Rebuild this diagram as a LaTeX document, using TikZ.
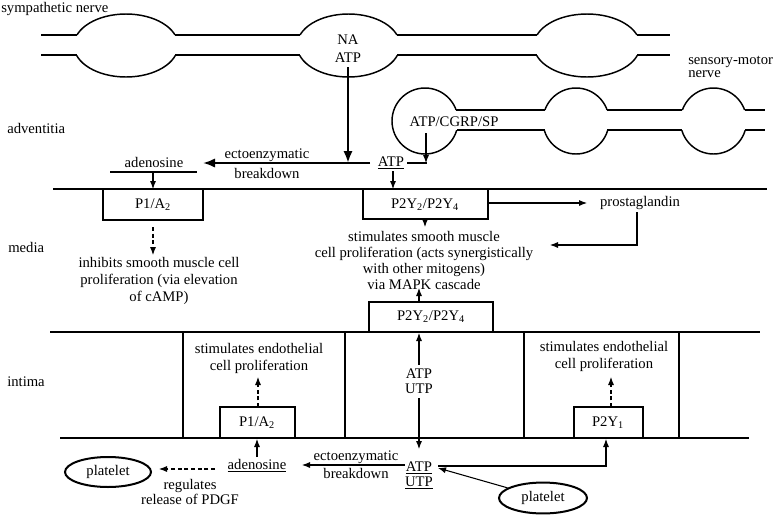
\documentclass[tikz,border=0pt]{standalone}
\usepackage{fontspec}
\setmainfont{Liberation Serif}
\usetikzlibrary{arrows.meta,shapes.geometric}
\begin{document}
\begin{tikzpicture}[x=0.75pt,y=-0.75pt,
  txt/.style={inner sep=0pt, font=\fontsize{11}{13}\selectfont, align=center},
  mem/.style={line width=2.2pt},
  rbox/.style={line width=1.9pt},
  cellwall/.style={line width=1.3pt},
  nerve/.style={line width=1.1pt},
  nerveend/.style={line width=1.6pt},
  thin/.style={line width=0.8pt},
  arr/.style={thin, -{Latex[length=6pt,width=4.6pt]}},
  darr/.style={arr, dash pattern=on 3pt off 2pt},
  bigarr/.style={line width=1.8pt, -{Latex[length=9pt,width=7pt]}},
  plt/.style={ellipse, draw, line width=1.5pt, inner sep=0pt, font=\fontsize{11}{13}\selectfont}
]
\fill[white] (0,0) rectangle (776,515);
\useasboundingbox (0,0) rectangle (776,515);

% ---------- sympathetic nerve ----------
\draw[nerveend] (41,35) -- (77,35) (41,55) -- (77,55);
\draw[nerve] (175,35) -- (300,35) (175,55) -- (300,55) (397,35) -- (537,35) (397,55) -- (537,55);
\draw[nerveend] (637,35) -- (670,35) (637,55) -- (670,55);
\begin{scope}
  \clip (0,0) rectangle (776,35) (0,55) rectangle (776,100);
  \draw[nerve] (126,45.5) ellipse [x radius=52, y radius=31.5];
  \draw[nerve] (348.5,45.5) ellipse [x radius=51.4, y radius=31.5];
  \draw[nerve] (587,45.5) ellipse [x radius=53, y radius=31.5];
\end{scope}

% ---------- sensory-motor nerve ----------
\draw[nerve] (456,110) -- (545,110) (457,130) -- (545,130) (607,110) -- (682,110) (607,130) -- (682,130);
\draw[nerveend] (745,110) -- (765,110) (745,130) -- (765,130);
\begin{scope}
  \clip (380,70) rectangle (776,110) (380,130) rectangle (776,170) (380,70) rectangle (426,170);
  \draw[nerve] (425,121) circle [radius=33];
  \draw[nerve] (576,121) circle [radius=33];
  \draw[nerve] (713.5,121) circle [radius=33];
\end{scope}

% ---------- labels ----------
\node[txt, anchor=west] (lsym) at (1,9) {sympathetic nerve};
\node[txt, anchor=west, align=left, font=\fontsize{11}{9.8}\selectfont] (lsens) at (688,67) {sensory-motor\\nerve};
\node[txt, anchor=west] (ladv) at (7,128) {adventitia};
\node[txt, anchor=west] (lmed) at (8,247) {media};
\node[txt, anchor=west] (lint) at (7,382) {intima};

% ---------- adventitia ----------
\node[txt, font=\fontsize{11}{13.5}\selectfont] (na) at (348,49) {NA\\ATP};
\node[txt] (cgrp) at (454,122) {ATP/CGRP/SP};
\node[txt] (atpa) at (391,163) {\underline{ATP}};
\node[txt] (adeno) at (154,162) {adenosine};
\node[txt, font=\fontsize{11}{15}\selectfont] (ecto1) at (267,164) {ectoenzymatic\\breakdown};

\coordinate (naB) at (348,67);
\coordinate (j1) at (348,163);
\coordinate (atpAL) at (370,163);
\coordinate (adTip) at (203,163);
\draw[bigarr] (naB) -- (j1);
\draw[line width=1.6pt, -{Latex[length=9pt,width=7pt]}] (atpAL) -- (adTip);

\coordinate (cgrpB) at (426,133);
\coordinate (cgrpT) at (426,163);
\coordinate (atpAR) at (407,163);
\draw[line width=1.8pt] (atpAR) -- ([xshift=0.8pt]cgrpT);
\draw[arr] (cgrpB) -- (cgrpT);

\draw[thin] (110,172) -- (197,172);
\coordinate (adB) at (153,172);
\coordinate (p1mT) at (153,189);
\draw[arr] (adB) -- (p1mT);
\coordinate (atpAB) at (393,171);
\coordinate (p2mT) at (393,189);
\draw[arr] (atpAB) -- (p2mT);

% ---------- media ----------
\draw[mem] (53,189) -- (767,189);
\draw[rbox] (103,189) -- (103,220) -- (203,220) -- (203,189);
\draw[rbox] (363,189) -- (363,219) -- (488,219) -- (488,189);
\node[txt] (p1m) at (153,205) {P1/A\textsubscript{2}};
\node[txt] (p2m) at (425,205) {P2Y\textsubscript{2}/P2Y\textsubscript{4}};
\node[txt] (prost) at (640,203) {prostaglandin};
\node[txt, font=\fontsize{11}{13.1}\selectfont] (inhib) at (159,281) {inhibits smooth muscle cell\\proliferation (via elevation\\of cAMP)};
\node[txt, font=\fontsize{11}{12}\selectfont] (stim) at (424,260) {stimulates smooth muscle\\cell proliferation (acts synergistically\\with other mitogens)\\via MAPK cascade};

\coordinate (p2mR) at (488,203);
\coordinate (prL) at (587,203);
\draw[arr] (p2mR) -- (prL);
\coordinate (prB) at (637,212);
\coordinate (stimR) at (550,245);
\draw[arr] (prB) -- (637,245) -- (stimR);
\coordinate (p2mB) at (425,219);
\coordinate (stimT) at (425,227);
\draw[arr] (p2mB) -- (stimT);
\coordinate (p1mB) at (153,227);
\coordinate (inhT) at (153,255);
\draw[darr] (p1mB) -- (inhT);

% ---------- intima ----------
\draw[mem] (50,332) -- (760,332);
\draw[mem] (60,438) -- (749,438);
\foreach \xx in {183,345,524,679} \draw[cellwall] (\xx,332) -- (\xx,438);
\draw[rbox] (369,332) -- (369,302) -- (493,302) -- (493,332);
\draw[rbox] (220,438) -- (220,407) -- (295,407) -- (295,438);
\draw[rbox] (574,438) -- (574,407) -- (643,407) -- (643,438);
\node[txt] (p2i) at (431,317) {P2Y\textsubscript{2}/P2Y\textsubscript{4}};
\node[txt] (p1i) at (257,423) {P1/A\textsubscript{2}};
\node[txt] (p2y1) at (608,423) {P2Y\textsubscript{1}};
\node[txt, font=\fontsize{11}{12.75}\selectfont] (endo1) at (259,358.5) {stimulates endothelial\\cell proliferation};
\node[txt, font=\fontsize{11}{12.75}\selectfont] (endo2) at (604,356.5) {stimulates endothelial\\cell proliferation};
\node[txt, font=\fontsize{11}{11.25}\selectfont, inner ysep=3pt] (atputp) at (419,381.5) {ATP\\UTP};

\coordinate (p2iT) at (419,302);
\coordinate (stimB) at (419,288);
\draw[arr] (p2iT) -- (stimB);
\coordinate (intTop) at (419,333);
\coordinate (intBot) at (419,449);
\draw[arr] (atputp.north) -- (intTop);
\draw[arr] (atputp.south) -- (intBot);
\coordinate (p1iT) at (258,407);
\coordinate (endo1B) at (258,377);
\draw[darr] (p1iT) -- (endo1B);
\coordinate (p2y1T) at (611,407);
\coordinate (endo2B) at (611,377);
\draw[darr] (p2y1T) -- (endo2B);

% ---------- lumen ----------
\node[txt, font=\fontsize{11}{11.25}\selectfont] (atpb) at (419,475.5) {\underline{ATP}\\\underline{UTP}};
\node[txt] (adenob) at (257,466) {\underline{adenosine}};
\node[txt, font=\fontsize{11}{13.5}\selectfont] (ecto2) at (356,465) {ectoenzymatic\\breakdown};
\node[txt, font=\fontsize{11}{11.25}\selectfont] (regul) at (190,491.5) {regulates\\release of PDGF};
\node[plt, minimum width=64.5pt, minimum height=22.5pt] (plt1) at (108,472) {platelet};
\node[plt, minimum width=66pt, minimum height=23.2pt] (plt2) at (543,498) {platelet};

\coordinate (atpbL) at (405,465);
\coordinate (adbR) at (302,465);
\draw[arr] (atpbL) -- (adbR);
\coordinate (adbT) at (257,457);
\coordinate (p1iB) at (257,439);
\draw[arr] (adbT) -- (p1iB);
\coordinate (adbL) at (215,469);
\coordinate (pltR) at (159,469);
\draw[darr] (adbL) -- (pltR);
\coordinate (atpbR) at (438,466);
\coordinate (p2y1B) at (606,439);
\draw[arr] (atpbR) -- (606,466) -- (p2y1B);
\coordinate (atpbR2) at (438,468);
\draw[arr] (plt2) -- (atpbR2);
\end{tikzpicture}
\end{document}
